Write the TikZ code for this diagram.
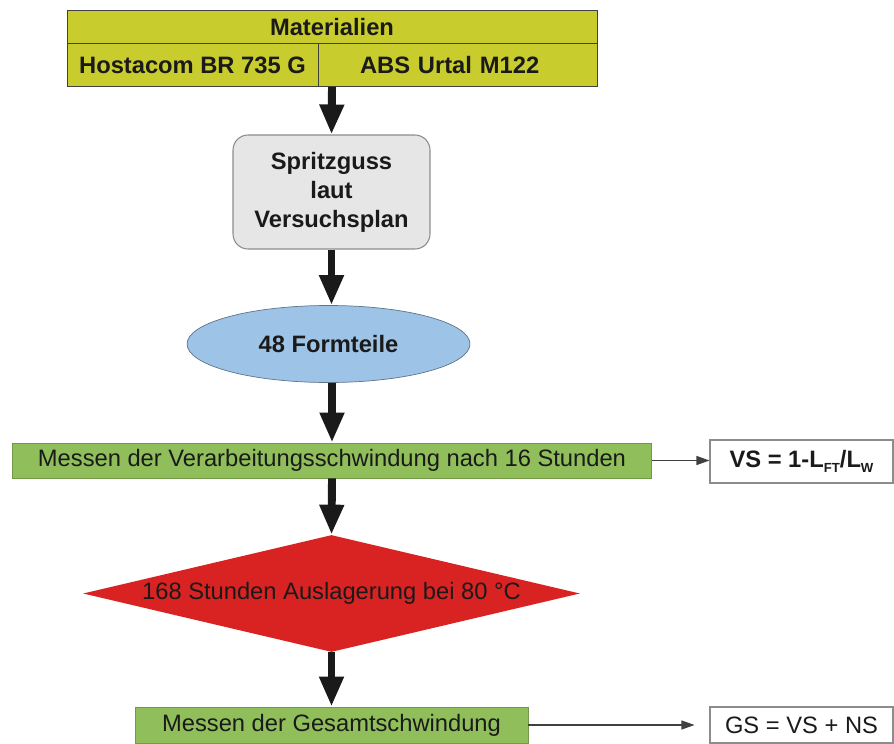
\documentclass[tikz,border=0pt]{standalone}
\usepackage{fontspec}
\setmainfont{Liberation Sans}
\definecolor{fcYellow}{HTML}{C8CC2C}
\definecolor{fcGray}{HTML}{E6E6E6}
\definecolor{fcBlue}{HTML}{9DC3E6}
\definecolor{fcGreen}{HTML}{8FBE5A}
\definecolor{fcRed}{HTML}{D92323}
\definecolor{fcInk}{HTML}{1A1A1A}
\definecolor{fcEdge}{HTML}{8C8C8C}
\definecolor{fcLine}{HTML}{404040}
\usetikzlibrary{positioning,arrows.meta,shapes.geometric}
\newcommand{\fcsub}[1]{\raisebox{-0.35ex}{\fontsize{7.5}{8}\selectfont #1}}
\tikzset{
  flowtext/.style={font=\fontsize{13.5}{16}\selectfont, text=fcInk, inner sep=0pt, align=center},
  flowbold/.style={font=\fontsize{13.5}{16.5}\selectfont\bfseries, text=fcInk, inner sep=0pt, align=center},
  tablecell/.style={flowbold, fill=fcYellow, draw=fcLine, line width=0.5pt},
  greenbar/.style={flowtext, fill=fcGreen, draw=fcGreen!80!black, line width=0.5pt},
  resultbox/.style={draw=fcEdge, fill=white, line width=0.6pt, minimum width=3.66cm},
  bigarrow/.style={draw=fcInk, line width=4.5pt, -{Triangle[length=0.6cm,width=0.46cm]}},
  thinarrow/.style={draw=fcLine, line width=0.6pt, -{Triangle[length=0.26cm,width=0.18cm]}}
}

\begin{document}
\begin{tikzpicture}[x=0.02cm, y=-0.02cm]
  \useasboundingbox (0,0) rectangle (894,744);
  % materials table
  \node[tablecell, minimum width=10.6cm, minimum height=0.68cm] (mat) at (332,27) {Materialien};
  \node[tablecell, minimum width=5.02cm, minimum height=0.86cm] (hosta) at (192.5,65) {Hostacom BR 735 G};
  \node[tablecell, minimum width=5.58cm, minimum height=0.86cm, text width=3.9cm, align=left] (abs) at (457.5,65)
        {ABS Urtal M122};
  % process steps
  \node[flowbold, fill=fcGray, draw=fcEdge, line width=0.6pt, rounded corners=0.3cm,
        minimum width=3.94cm, minimum height=2.28cm] (spritz) at (331.5,192) {Spritzguss\\laut\\Versuchsplan};
  \node[flowbold, ellipse, fill=fcBlue, draw=fcBlue!60!black, line width=0.4pt,
        minimum width=5.66cm, minimum height=1.54cm] (teile) at (328.5,344) {48 Formteile};
  \node[greenbar, minimum width=12.8cm, minimum height=0.7cm] (vsmess) at (332,460.5)
        {Messen der Verarbeitungsschwindung nach 16 Stunden};
  \node[flowtext, diamond, aspect=4.25, fill=fcRed, minimum width=9.94cm, minimum height=2.34cm] (lager) at (331.5,593.5)
        {168 Stunden Auslagerung bei 80 °C};
  \node[greenbar, minimum width=7.86cm, minimum height=0.72cm] (gsmess) at (331.5,725)
        {Messen der Gesamtschwindung};
  % results
  \node[resultbox, flowbold, minimum height=0.86cm] (vsres) at (801.5,461.5) {VS = 1-L\fcsub{FT}/L\fcsub{W}};
  \node[resultbox, flowtext, minimum height=0.72cm] (gsres) at (801.5,725) {GS = VS + NS};
  % main flow
  \draw[bigarrow] (mat.center |- hosta.south) -- (spritz.north);
  \draw[bigarrow] (spritz.south) -- (teile.north -| spritz.south);
  \draw[bigarrow] (teile.south -| vsmess.north) -- (vsmess.north);
  \draw[bigarrow] (vsmess.south) -- (lager.north);
  \draw[bigarrow] (lager.south) -- (gsmess.north);
  % side results
  \draw[thinarrow] (vsmess.east) -- (vsmess.east -| vsres.west);
  \draw[thinarrow, shorten >=0.3cm] (gsmess.east) -- (gsmess.east -| gsres.west);
\end{tikzpicture}
\end{document}
